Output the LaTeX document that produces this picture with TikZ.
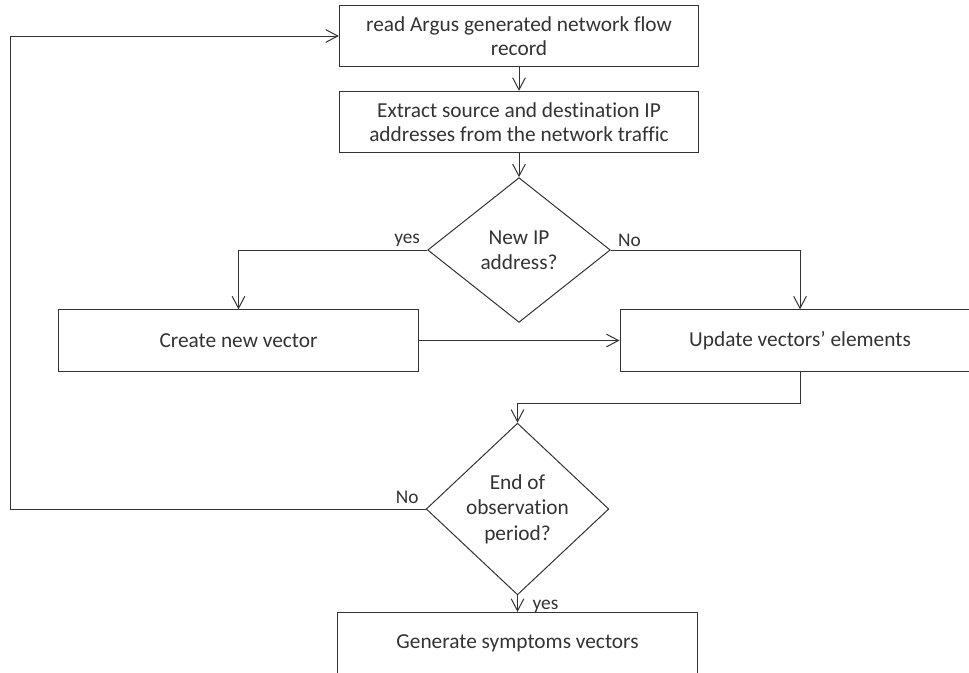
\documentclass[tikz,border=0pt]{standalone}
\usepackage{fontspec}
\setmainfont{Carlito}[Ligatures=NoCommon]
\usetikzlibrary{arrows.meta, positioning, shapes.geometric}
\colorlet{ink}{black!80}
\tikzset{
  >={Straight Barb[length=9pt,width=9.5pt]}, % open arrow heads
  flow/.style={->, draw=ink, line width=0.75pt}, % the connectors
  stepbox/.style={rectangle, draw=ink, text=ink, line width=0.75pt, align=center,
    minimum width=269.5pt, minimum height=46pt, inner sep=0pt,
    font=\fontsize{16}{18.5}\selectfont}, % the process boxes
  decision/.style={diamond, draw=ink, text=ink, line width=0.75pt, align=center,
    minimum width=137pt, minimum height=108.5pt, inner sep=0pt,
    font=\fontsize{16}{19}\selectfont}, % the two questions
  answer/.style={text=ink, inner sep=5pt,
    font=\fontsize{14.5}{16}\selectfont}, % yes / No
}

\begin{document}
\begin{tikzpicture}[x=0.75pt, y=-0.75pt]
    \useasboundingbox (0,0) rectangle (969,672);

    \node[stepbox] (read) at (519,36) {read Argus generated network flow\\record};
    \node[stepbox, below of=read, node distance=64.5pt] (extract) {Extract source and destination IP\\addresses from the network traffic};
    \node[decision, below of=extract, node distance=96pt] (newip) {New IP\\address?};
    \node[stepbox] (create) at (238.5,340.5) {Create new vector};
    \node[stepbox, minimum width=270pt] (update) at (800,340.5) {Update vectors’ elements};
    \node[decision] (endobs) at (517.5,509) {End of\\observation\\period?};
    \node[stepbox, below of=endobs, node distance=100.5pt] (gen) {Generate symptoms vectors};

    \draw[flow] (read) -- (extract);
    \draw[flow] (extract) -- (newip);
    \draw[flow] (newip.west) node[answer, above left, yshift=-3pt] {yes} -| (create.north);
    \draw[flow] (newip.east) node[answer, above right, yshift=-3pt] {No} -| (update.north);
    \draw[flow] (create.east) -- (update.west);
    \draw[flow] (update.south) -- ++(0,32) -| (endobs.north);
    \draw[flow] (endobs.west) node[answer, above left, yshift=-1pt] {No} -- (10,509) |- (read.west);
    \draw[flow] (endobs.south) -- node[answer, right, xshift=6pt, yshift=-2pt] {yes} (gen.north);

  \end{tikzpicture}
\end{document}
